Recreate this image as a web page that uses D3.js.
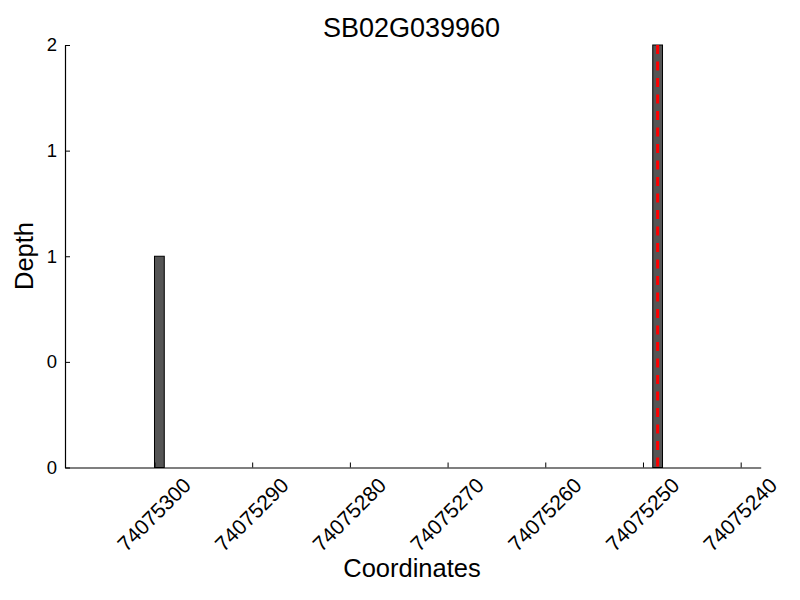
<!DOCTYPE html>
<html><head><meta charset="utf-8">
<script src="https://cdn.jsdelivr.net/npm/d3@7"></script>
<style>body{margin:0;background:#fff;} text{font-family:"Liberation Sans",Arial,sans-serif;}</style>
</head><body>
<svg id="c" width="800" height="600"></svg>
<script>
const title = "SB02G039960";
const binStarts = [74075299, 74075248];
const depths = [1, 2];
const binWidth = 1;
const markerPos = [74075248.5];
const xTicks = [74075300, 74075290, 74075280, 74075270, 74075260, 74075250, 74075240];
const yTickValues = [0, 0.5, 1, 1.5, 2];
const yTickLabels = ["0", "0", "1", "1", "2"];

const svg = d3.select("#c");
const L = 65, R = 760.7, T = 45, B = 467.5;
const x = d3.scaleLinear().domain([74075309.16, 74075237.95]).range([L, R]);
const y = d3.scaleLinear().domain([0, 2]).range([B, T]);

// bars
svg.selectAll("rect.bar").data(binStarts).enter().append("rect")
  .attr("x", d => x(d + binWidth))
  .attr("width", d => x(d) - x(d + binWidth))
  .attr("y", (d, i) => y(depths[i]))
  .attr("height", (d, i) => y(0) - y(depths[i]))
  .attr("fill", "#555555").attr("stroke", "#000").attr("stroke-width", 1);

// marker line
svg.selectAll("line.mark").data(markerPos).enter().append("line")
  .attr("x1", d => x(d)).attr("x2", d => x(d))
  .attr("y1", T).attr("y2", B)
  .attr("stroke", "#ff0000").attr("stroke-width", 3)
  .attr("stroke-dasharray", "9,7.5");

// y axis
const yAxis = d3.axisLeft(y).tickValues(yTickValues)
  .tickFormat((d, i) => yTickLabels[i]).tickSizeInner(-5).tickSizeOuter(0).tickPadding(8);
const gy = svg.append("g").attr("transform", `translate(${L},0)`).call(yAxis);
gy.selectAll("text").attr("font-size", 18.5).attr("fill", "#000").attr("font-family", "Liberation Sans, Arial, sans-serif");
gy.selectAll("line").attr("stroke", "#000");
gy.select(".domain").attr("stroke", "#000").attr("stroke-width", 1.2);

// x axis
const xAxis = d3.axisBottom(x).tickValues(xTicks).tickFormat(d3.format("d"))
  .tickSizeInner(-5).tickSizeOuter(0);
const gx = svg.append("g").attr("transform", `translate(0,${B})`).call(xAxis);
gx.selectAll("line").attr("stroke", "#000");
gx.select(".domain").attr("stroke", "#000").attr("stroke-width", 1.2);
gx.selectAll("text")
  .attr("font-size", 21).attr("fill", "#000").attr("font-family", "Liberation Sans, Arial, sans-serif")
  .attr("text-anchor", "middle").attr("dy", "0.35em").attr("y", 0)
  .attr("transform", "translate(-1,47) rotate(-45)");

// labels
svg.append("text").attr("x", 411.5).attr("y", 37).attr("text-anchor", "middle")
  .attr("font-size", 27).attr("fill", "#000").text(title);
svg.append("text").attr("x", 412).attr("y", 577).attr("text-anchor", "middle")
  .attr("font-size", 25.5).attr("fill", "#000").text("Coordinates");
svg.append("text").attr("transform", "translate(33,256) rotate(-90)").attr("text-anchor", "middle")
  .attr("font-size", 25.5).attr("fill", "#000").text("Depth");
</script>
</body></html>
